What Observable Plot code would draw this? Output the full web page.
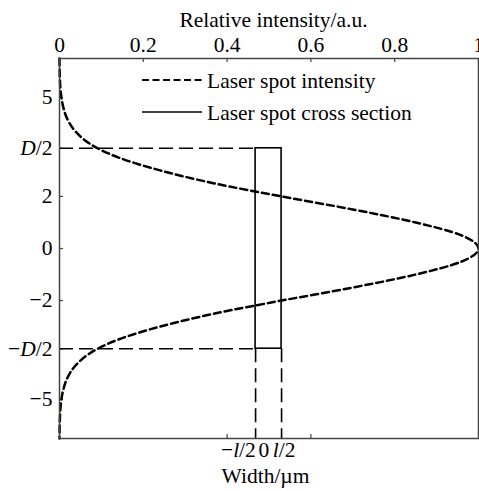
<!DOCTYPE html>
<html><head><meta charset="utf-8">
<script src="https://cdn.jsdelivr.net/npm/d3@7"></script>
<script src="https://cdn.jsdelivr.net/npm/@observablehq/plot@0.6"></script>
<style>body{margin:0;background:#fff}</style>
</head><body><div id="chart"></div>
<script>
// Laser spot intensity profile
const positionY = [7.3, 6.5, 6.0, 5.5, 5.0, 4.5, 4.0, 3.5, 3.0, 2.5, 2.0, 1.5, 1.0, 0.5, 0,
                   -0.5, -1.0, -1.5, -2.0, -2.5, -3.0, -3.5, -4.0, -4.5, -5.0, -5.5, -6.0, -6.5, -7.3];
const intensity = [0.000, 0.001, 0.003, 0.008, 0.018, 0.038, 0.075, 0.14, 0.24, 0.37, 0.53, 0.70, 0.85, 0.96, 1.00,
                   0.96, 0.85, 0.70, 0.53, 0.37, 0.24, 0.14, 0.075, 0.038, 0.018, 0.008, 0.003, 0.001, 0.000];
const yDomain = [-7.3, 7.3];
const halfD = 3.85;                 // D/2
const crossSection = [0.468, 0.53]; // -l/2 .. l/2 on the intensity scale
const intensityTicks = [0, 0.2, 0.4, 0.6, 0.8, 1];
const yTickValues = [5.8, 3.85, 2, 0, -2, -3.85, -5.8];
const yTickLabels = ["5", "D/2", "2", "0", "\u22122", "\u2212D/2", "\u22125"];
const widthTicks = [0.4, 0.6];
const widthLabels = ["\u2212l/2", "0", "l/2"];
const widthLabelPos = [0.427, 0.488, 0.536];
const legendItems = ["Laser spot intensity", "Laser spot cross section"];

const curve = positionY.map((y, i) => ({y, I: intensity[i]}));
const W = 479, H = 491, mL = 59, mR = 1, mT = 58, mB = 53;
const innerW = W - mL - mR, innerH = H - mT - mB;
const FS = 21.5;

function legend(index, scales, values, dims) {
  const g = d3.create("svg:g").attr("font-family", "Liberation Serif").attr("font-size", FS)
    .attr("text-anchor", "start");
  const x0 = dims.marginLeft + 83, x1 = dims.marginLeft + 143, tx = dims.marginLeft + 148;
  const rows = [dims.marginTop + 22, dims.marginTop + 54];
  legendItems.forEach((t, i) => {
    g.append("line").attr("x1", x0).attr("x2", x1).attr("y1", rows[i]).attr("y2", rows[i])
      .attr("stroke", "black").attr("stroke-width", i === 0 ? 2 : 1.6)
      .attr("stroke-dasharray", i === 0 ? "7,3.5" : null);
    g.append("text").attr("x", tx).attr("y", rows[i]).attr("dy", "0.35em")
      .attr("text-anchor", "start").attr("fill", "black").text(t);
  });
  return g.node();
}

const chart = Plot.plot({
  width: W, height: H,
  marginLeft: mL, marginRight: mR, marginTop: mT, marginBottom: mB,
  style: {fontFamily: "Liberation Serif", fontSize: FS + "px", background: "white", color: "black"},
  x: {domain: [0, 1]},
  y: {domain: yDomain},
  marks: [
    Plot.tickX(intensityTicks, {x: d => d, insetBottom: innerH - 4, stroke: "#444", strokeWidth: 1.2}),
    Plot.tickX(widthTicks, {x: d => d, insetTop: innerH - 4, stroke: "#444", strokeWidth: 1.2}),
    Plot.tickY(yTickValues, {y: d => d, insetRight: innerW - 4, stroke: "#444", strokeWidth: 1.2}),
    Plot.axisX({anchor: "top", ticks: intensityTicks, tickSize: 0, tickPadding: 7, label: null,
      tickFormat: d => d === 0 || d === 1 ? String(d) : d.toFixed(1)}),
    Plot.axisY({anchor: "left", ticks: yTickValues, tickSize: 0, tickPadding: 7, label: null,
      tickFormat: (d, i) => yTickLabels[i]}),
    Plot.text(["Relative intensity/a.u."], {frameAnchor: "top", dx: 4.5, dy: -47, fill: "black"}),
    Plot.text(widthLabels, {x: (d, i) => widthLabelPos[i], frameAnchor: "bottom", dy: 18, fill: "black"}),
    Plot.text(["Width/\u00b5m"], {frameAnchor: "bottom", dx: -3.5, dy: 44, fill: "black"}),
    Plot.ruleY([halfD, -halfD], {y: d => d, x1: 0, x2: crossSection[0], stroke: "black",
      strokeWidth: 1.6, strokeDasharray: "14,6"}),
    Plot.ruleX(crossSection, {x: d => d, y1: -halfD, y2: yDomain[0], stroke: "black",
      strokeWidth: 1.6, strokeDasharray: "14,6"}),
    Plot.rect([0], {x1: crossSection[0], x2: crossSection[1], y1: -halfD, y2: halfD,
      fill: "none", stroke: "black", strokeWidth: 1.6}),
    Plot.line(curve, {x: "I", y: "y", curve: "monotone-y", stroke: "black", strokeWidth: 2.5,
      strokeDasharray: "7,4"}),
    Plot.frame({stroke: "#444", strokeWidth: 1.5}),
    legend
  ]
});

// italicise the D and l symbols
chart.querySelectorAll("text").forEach(t => {
  const s = t.textContent;
  const m = s.match(/^(.*?)([Dl])(\/2)$/);
  if (m) {
    t.textContent = "";
    const ns = "http://www.w3.org/2000/svg";
    const a = document.createElementNS(ns, "tspan"); a.textContent = m[1];
    const b = document.createElementNS(ns, "tspan"); b.textContent = m[2]; b.setAttribute("font-style", "italic");
    const c = document.createElementNS(ns, "tspan"); c.textContent = m[3];
    t.append(a, b, c);
  }
});
document.getElementById("chart").append(chart);
</script>
</body></html>
